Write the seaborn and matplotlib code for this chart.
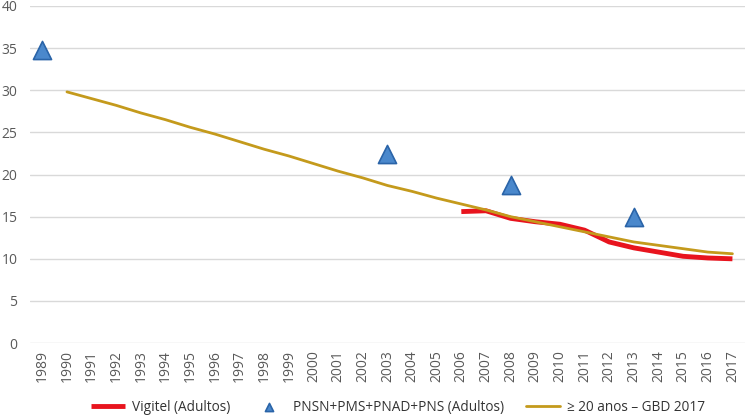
import pandas as pd
import matplotlib.pyplot as plt
import seaborn as sns

years = list(range(1989, 2018))

gbd_years = list(range(1990, 2018))
gbd_vals = [29.8, 29.0, 28.2, 27.3, 26.5, 25.6, 24.8, 23.9, 23.0, 22.2,
            21.3, 20.4, 19.6, 18.7, 18.0, 17.2, 16.5, 15.8, 15.0, 14.4,
            13.8, 13.2, 12.6, 12.0, 11.6, 11.2, 10.8, 10.6]

vig_years = list(range(2006, 2018))
vig_vals = [15.6, 15.7, 14.8, 14.4, 14.1, 13.4, 12.0, 11.3, 10.8, 10.3, 10.1, 10.0]

survey_years = [1989, 2003, 2008, 2013]
survey_vals = [34.8, 22.4, 18.8, 15.0]

sns.set_style('white')
plt.rcParams['font.family'] = ['Open Sans', 'DejaVu Sans']

gbd = pd.DataFrame({'ano': gbd_years, 'valor': gbd_vals})
vig = pd.DataFrame({'ano': vig_years, 'valor': vig_vals})
srv = pd.DataFrame({'ano': survey_years, 'valor': survey_vals})

fig = plt.figure(figsize=(7.5, 4.2), dpi=100)
ax = fig.add_axes([0.04, 0.183, 0.953, 0.803])

sns.lineplot(data=vig, x='ano', y='valor', ax=ax, color='#E8141E', linewidth=3.5,
             solid_joinstyle='round', solid_capstyle='butt', label='Vigitel (Adultos)', zorder=3)
sns.scatterplot(data=srv, x='ano', y='valor', ax=ax, marker='^', s=170, color='#4A88CC',
                edgecolor='#2A64A8', linewidth=1.2, label='PNSN+PMS+PNAD+PNS (Adultos)', zorder=5)
sns.lineplot(data=gbd, x='ano', y='valor', ax=ax, color='#C49A1C', linewidth=2,
             label='\u2265 20 anos \u2013 GBD 2017', zorder=4)

ax.set_xlim(1988.5, 2017.5)
ax.set_ylim(0, 40)
ax.set_yticks(range(0, 41, 5))
ax.set_xticks(years)
ax.set_xticklabels([str(y) for y in years], rotation=90)
ax.yaxis.grid(True, color='#D9D9D9', linewidth=1)
ax.set_axisbelow(True)
for s in ax.spines.values():
    s.set_visible(False)
ax.tick_params(axis='both', length=0, labelsize=10, colors='#595959', pad=5)
ax.tick_params(axis='y', pad=9)
ax.set_xlabel('')
ax.set_ylabel('')

leg = ax.legend(loc='center', bbox_to_anchor=(0.515, -0.19), ncol=3, frameon=False,
                fontsize=9.8, handlelength=2.5, handletextpad=0.5, columnspacing=1.6,
                markerscale=0.45)
for t in leg.get_texts():
    t.set_color('#333333')

plt.savefig('out.png', dpi=100)
